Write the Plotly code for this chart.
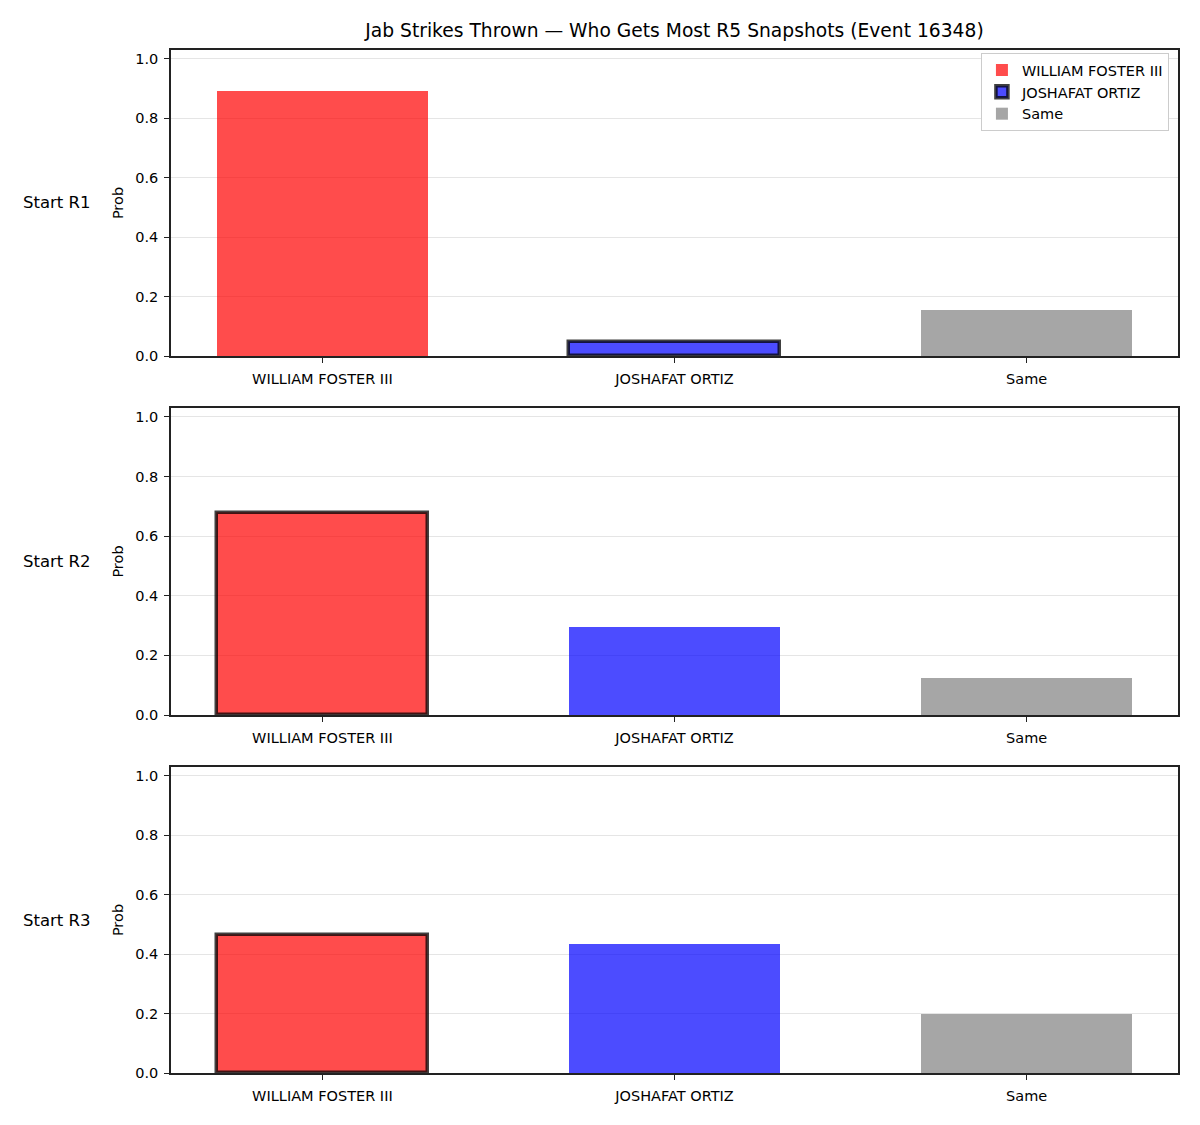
import plotly.graph_objects as go

categories = ["WILLIAM FOSTER III", "JOSHAFAT ORTIZ", "Same"]
row_labels = ["Start R1", "Start R2", "Start R3"]
r1_values = [0.893, 0.047, 0.156]
r2_values = [0.677, 0.296, 0.124]
r3_values = [0.465, 0.435, 0.199]
highlight = [1, 0, 0]  # index of highlighted bar per row
title = "Jab Strikes Thrown — Who Gets Most R5 Snapshots (Event 16348)"

colors = ["rgba(255,0,0,0.7)", "rgba(0,0,255,0.7)", "rgba(128,128,128,0.7)"]
rows = [r1_values, r2_values, r3_values]

H_PLOT = 1023.0
panels = [(50, 356), (408, 715), (767, 1073)]

fig = go.Figure()
for r, vals in enumerate(rows):
    xa = "x" if r == 0 else f"x{r+1}"
    ya = "y" if r == 0 else f"y{r+1}"
    for c, cat in enumerate(categories):
        hl = (highlight[r] == c)
        fig.add_trace(go.Bar(
            x=[cat], y=[vals[c]], name=cat, legendgroup=cat,
            showlegend=(r == 0), width=0.6,
            marker=dict(color=colors[c],
                        line=dict(color="rgba(0,0,0,0.75)" if hl else "rgba(255,255,255,0)",
                                  width=3.5 if hl else 0)),
            xaxis=xa, yaxis=ya,
        ))

layout = dict(
    width=1200, height=1125,
    margin=dict(l=171, r=22, t=50, b=52),
    paper_bgcolor="white", plot_bgcolor="white",
    font=dict(family="DejaVu Sans", size=14.5, color="black"),
    title=dict(text=title, x=(171 + 1007 / 2) / 1200, xanchor="center",
               y=1 - 30 / 1125, yanchor="middle", font=dict(size=18.7)),
    barmode="overlay",
    bargap=0,
    legend=dict(x=0.991, xanchor="right", y=0.997, yanchor="top",
                bgcolor="white", bordercolor="#cccccc", borderwidth=1,
                font=dict(size=14.5), tracegroupgap=0),
    annotations=[],
)

for r, (top, bot) in enumerate(panels):
    d0 = (1073 - bot) / H_PLOT
    d1 = (1073 - top) / H_PLOT
    sx = "" if r == 0 else str(r + 1)
    layout[f"xaxis{sx}"] = dict(
        domain=[0, 1], anchor=f"y{sx}", type="category",
        categoryorder="array", categoryarray=categories,
        range=[-0.43, 2.43], showline=True, linecolor="#222", linewidth=1.5,
        mirror=True, ticks="outside", ticklen=5, tickcolor="#222",
        showgrid=False, tickfont=dict(size=14.5), ticklabelstandoff=4,
    )
    layout[f"yaxis{sx}"] = dict(
        domain=[max(0, d0), min(1, d1)], anchor=f"x{sx}",
        range=[0, 1.03], tickvals=[0, 0.2, 0.4, 0.6, 0.8, 1.0],
        ticktext=["0.0", "0.2", "0.4", "0.6", "0.8", "1.0"],
        showline=True, linecolor="#222", linewidth=1.5, mirror=True,
        ticks="outside", ticklen=5, tickcolor="#222",
        showgrid=True, gridcolor="rgba(0,0,0,0.1)", gridwidth=1,
        zeroline=False, title=dict(text="Prob", font=dict(size=14.5), standoff=8),
        tickfont=dict(size=14.5), ticklabelstandoff=3,
    )
    layout["annotations"].append(dict(
        text=row_labels[r], xref="paper", yref="paper",
        x=(57 - 171) / 1007, y=(d0 + d1) / 2, xanchor="center", yanchor="middle",
        showarrow=False, font=dict(size=16.5),
    ))

fig.update_layout(**layout)
fig.write_html("out.html")
